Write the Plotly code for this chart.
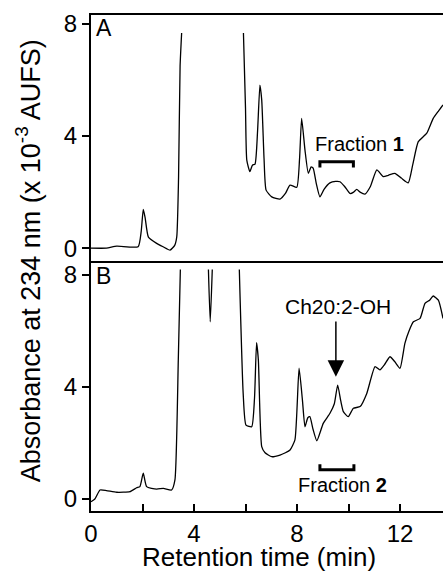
import plotly.graph_objects as go

# Panel A chromatogram (None = off-scale gap)
time_a = [0.0, 0.6, 1.0, 1.83, 1.95, 2.03, 2.1, 2.23, 2.55, 2.8, 3.07, 3.25, 3.33, 3.4, 3.46, 3.52,
          None,
          5.92, 6.0, 6.05, 6.17, 6.27, 6.37, 6.47, 6.56, 6.63, 6.72, 6.8, 7.02, 7.34, 7.55, 7.73, 7.99,
          8.1, 8.18, 8.31, 8.44, 8.55, 8.63, 8.75, 8.89, 9.05, 9.28, 9.5, 9.67, 9.85, 10.06, 10.2,
          10.32, 10.45, 10.64, 10.85, 11.1, 11.35, 11.55, 11.8, 12.05, 12.32, 12.5, 12.71, 13.04,
          13.29, 13.5, 13.67]
abs_a = [0.0, 0.0, 0.07, 0.05, 0.6, 1.38, 1.1, 0.39, 0.17, 0.05, -0.07, 0.1, 0.4, 2.5, 6.5, 7.68,
         None,
         7.68, 5.0, 3.14, 2.73, 2.96, 3.0, 4.2, 5.82, 5.29, 3.2, 2.07, 1.83, 1.75, 1.95, 2.25, 2.17,
         3.2, 4.63, 3.5, 2.67, 2.9, 2.85, 2.3, 1.83, 2.1, 2.33, 2.38, 2.37, 2.2, 1.95, 2.0,
         2.1, 2.0, 1.93, 2.2, 2.79, 2.55, 2.6, 2.67, 2.5, 2.33, 3.0, 3.8, 4.1,
         4.63, 4.9, 5.11]

# Panel B chromatogram
time_b = [0.0, 0.15, 0.35, 0.6, 1.0, 1.51, 1.77, 1.9, 2.03, 2.16, 2.55, 2.81, 3.13, 3.26, 3.39, 3.47,
          None,
          4.56, 4.63, 4.71,
          None,
          5.76, 5.91, 6.02, 6.24, 6.35, 6.43, 6.5, 6.63, 6.76, 7.02, 7.34, 7.55, 7.73, 7.92, 8.08,
          8.21, 8.31, 8.42, 8.5, 8.62, 8.77, 9.02, 9.28, 9.45, 9.58, 9.7, 9.8, 9.99, 10.19, 10.45,
          10.71, 11.03, 11.22, 11.4, 11.61, 11.8, 12.0, 12.19, 12.35, 12.52, 12.78, 12.97, 13.15,
          13.29, 13.49, 13.67]
abs_b = [-0.1, 0.0, 0.32, 0.3, 0.24, 0.26, 0.4, 0.44, 0.92, 0.44, 0.35, 0.38, 0.32, 0.68, 4.96, 8.2,
         None,
         8.2, 6.33, 8.2,
         None,
         8.2, 3.77, 2.64, 2.58, 3.6, 5.58, 4.96, 1.87, 1.65, 1.51, 1.57, 1.65, 1.75, 2.11, 4.67,
         3.54, 2.58, 2.9, 2.94, 2.5, 2.08, 2.7, 3.06, 3.4, 4.07, 3.5, 3.12, 2.94, 3.24, 3.3,
         3.77, 4.73, 4.61, 4.8, 5.08, 4.9, 4.67, 5.56, 6.0, 6.33, 6.45, 6.99, 7.1,
         7.25, 7.1, 6.45]

# Collected fractions (start, end of collection window, min)
fraction1 = [8.89, 10.19]
fraction2 = [8.89, 10.21]

x_ticks = [0, 2, 4, 6, 8, 10, 12]
x_tick_labels = ["0", "", "4", "", "8", "", "12"]
y_ticks = [0, 4, 8]

FONT = "Liberation Sans, Arial, Helvetica, sans-serif"
LINE = dict(color="black", width=1.3, shape="spline", smoothing=0.5)

fig = go.Figure()
fig.add_trace(go.Scatter(x=time_a, y=abs_a, mode="lines", line=LINE, xaxis="x", yaxis="y",
                         connectgaps=False, showlegend=False))
fig.add_trace(go.Scatter(x=time_b, y=abs_b, mode="lines", line=LINE, xaxis="x2", yaxis="y2",
                         connectgaps=False, showlegend=False))

# Fraction brackets
b1_top, b1_tip = 3.08, 2.88
fig.add_trace(go.Scatter(x=[fraction1[0], fraction1[0], fraction1[1], fraction1[1]],
                         y=[b1_tip, b1_top, b1_top, b1_tip], mode="lines",
                         line=dict(color="black", width=3), xaxis="x", yaxis="y", showlegend=False))
b2_base, b2_tip = 1.04, 1.24
fig.add_trace(go.Scatter(x=[fraction2[0], fraction2[0], fraction2[1], fraction2[1]],
                         y=[b2_tip, b2_base, b2_base, b2_tip], mode="lines",
                         line=dict(color="black", width=3), xaxis="x2", yaxis="y2", showlegend=False))

axis_common = dict(showgrid=False, zeroline=False, linecolor="black", linewidth=2,
                   showline=True, tickfont=dict(family=FONT, size=24, color="black"))

fig.update_layout(
    width=443, height=571,
    margin=dict(l=91, r=0, t=15, b=60),
    plot_bgcolor="white", paper_bgcolor="white",
    font=dict(family=FONT, color="black"),
    xaxis=dict(range=[0, 13.67], domain=[0, 1], anchor="y", mirror=True, showticklabels=False,
               ticks="", **axis_common),
    yaxis=dict(range=[-0.46, 8.32], domain=[0.504, 1], anchor="x", tickvals=y_ticks,
               ticks="outside", ticklen=7, tickwidth=1.5, tickcolor="black", **axis_common),
    xaxis2=dict(range=[0, 13.67], domain=[0, 1], anchor="y2", tickvals=x_ticks,
                ticktext=x_tick_labels, ticks="inside", ticklen=7, tickwidth=1.5,
                tickcolor="black", **axis_common),
    yaxis2=dict(range=[-0.43, 8.5], domain=[0, 0.504], anchor="x2", tickvals=y_ticks,
                ticks="outside", ticklen=7, tickwidth=1.5, tickcolor="black", **axis_common),
)

ann = []
ann.append(dict(text="A", xref="x", yref="y", x=0.5, y=7.85, showarrow=False,
                xanchor="center", yanchor="middle", font=dict(family=FONT, size=23)))
ann.append(dict(text="B", xref="x2", yref="y2", x=0.5, y=7.95, showarrow=False,
                xanchor="center", yanchor="middle", font=dict(family=FONT, size=23)))
ann.append(dict(text="Fraction <b>1</b>", xref="x", yref="y",
                x=(fraction1[0] + fraction1[1]) / 2 + 0.9, y=3.72, showarrow=False,
                xanchor="center", yanchor="middle", font=dict(family=FONT, size=20)))
ann.append(dict(text="Fraction <b>2</b>", xref="x2", yref="y2",
                x=(fraction2[0] + fraction2[1]) / 2 + 0.2, y=0.5, showarrow=False,
                xanchor="center", yanchor="middle", font=dict(family=FONT, size=20)))
ann.append(dict(text="Ch20:2-OH", xref="x2", yref="y2", x=9.6, y=6.87, showarrow=False,
                xanchor="center", yanchor="middle", font=dict(family=FONT, size=21)))
ann.append(dict(text="", xref="x2", yref="y2", x=9.51, y=4.37, axref="x2", ayref="y2",
                ax=9.51, ay=6.39, showarrow=True, arrowhead=2, arrowsize=2.2, arrowwidth=1.5,
                arrowcolor="black", standoff=0))
ann.append(dict(text="Absorbance at 234 nm (x 10<sup>-3</sup> AUFS)", xref="paper", yref="paper",
                x=-0.178, y=0.504, textangle=-90, showarrow=False, xanchor="center",
                yanchor="middle", font=dict(family=FONT, size=27)))
ann.append(dict(text="Retention time (min)", xref="paper", yref="paper", x=0.478, y=0,
                yshift=-29, showarrow=False, xanchor="center", yanchor="top",
                font=dict(family=FONT, size=26)))
fig.update_layout(annotations=ann)

fig.write_html("out.html", config={"displayModeBar": False},
               post_script="document.body.style.margin='0';")
